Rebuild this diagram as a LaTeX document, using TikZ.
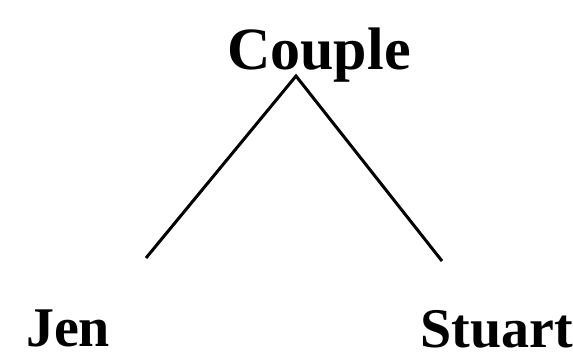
\documentclass[tikz,border=0pt]{standalone}
\usepackage{fontspec}
\setmainfont{Liberation Serif}
\usetikzlibrary{positioning}

\begin{document}
\begin{tikzpicture}[
        x=1pt, y=-1pt,
        person/.style={inner sep=0pt, anchor=base, text depth=0pt, font=\bfseries\fontsize{56}{60}\selectfont},
        root/.style={inner sep=0pt, anchor=base, font=\bfseries\fontsize{60}{64}\selectfont},
        branch/.style={draw, line width=3pt}
    ]
        \useasboundingbox (0,0) rectangle (573,356);
        \node[root]   (couple) at (319,69)  {Couple};
        \node[person] (jen)    at (68,346)  {Jen};
        \node[person] (stuart) at (497,347) {Stuart};
        \coordinate (top)   at (296,76);
        \coordinate (jenup) at (146,258);
        \coordinate (stuup) at (442,261);
        \path[branch] (jenup) -- (top) -- (stuup);
    \end{tikzpicture}
\end{document}
